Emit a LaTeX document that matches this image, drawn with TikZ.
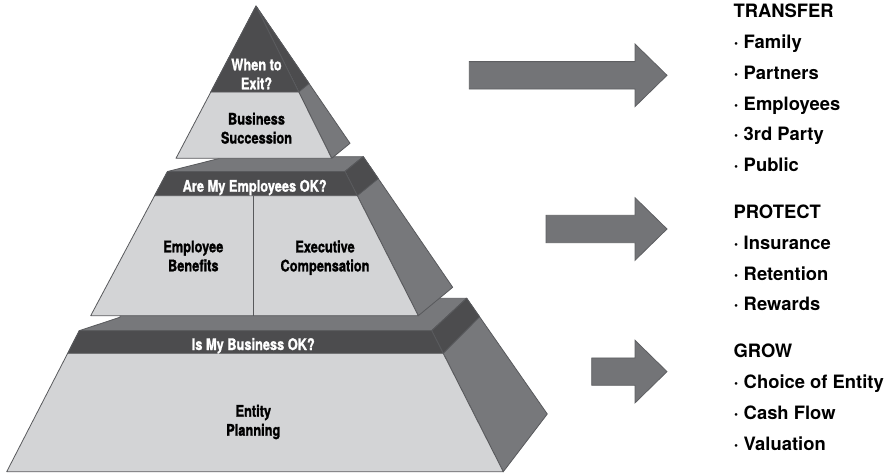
\documentclass[tikz,border=0pt]{standalone}
\usepackage{fontspec}
\setmainfont{TeX Gyre Heros}
\newfontfamily\condfont[FakeStretch=0.8,FakeBold=1.2]{TeX Gyre Heros}

\definecolor{facegray}{HTML}{D3D4D6}
\definecolor{bandgray}{HTML}{4C4C4E}
\definecolor{sidegray}{HTML}{77787B}
\definecolor{edgegray}{HTML}{58595C}
\definecolor{arrowfill}{HTML}{737477}
\definecolor{arrowedge}{HTML}{5E5F62}

\begin{document}
\begin{tikzpicture}[x=1pt,y=-1pt,
  face/.style={fill=facegray,draw=edgegray,line width=0.8pt,line join=round},
  band/.style={fill=bandgray,draw=edgegray,line width=0.8pt,line join=round},
  side/.style={fill=sidegray,draw=edgegray,line width=0.8pt,line join=round},
  divider/.style={draw=edgegray,line width=0.8pt},
  blockarrow/.style={fill=arrowfill,draw=arrowedge,line width=0.8pt,line join=miter},
  lbl/.style={inner sep=0pt,align=center,text=black,
    font=\condfont\bfseries\fontsize{16}{19}\selectfont},
  bandlbl/.style={inner sep=0pt,anchor=base,text=white,
    font=\condfont\bfseries\fontsize{16}{19}\selectfont},
  listtxt/.style={inner sep=0pt,anchor=base west,text=black,
    font=\bfseries\fontsize{18.4}{22}\selectfont}
]
\useasboundingbox (0,0) rectangle (888,474);

% ---------- bottom tier ----------
\draw[side] (79.3,330.7) -- (120,317.2) -- (120,298.3) -- (466.7,298.3) -- (431.7,330.7) -- cycle;
\draw[side] (431.7,330.7) -- (466.7,298.3) -- (547.3,414) -- (503.3,471.7) -- cycle;
\draw[band] (431.7,330.7) -- (466.7,298.3) -- (479.6,316.8) -- (443.2,353.3) -- cycle;
\draw[face] (79.3,330.7) -- (431.7,330.7) -- (503.3,471.7) -- (6.7,471.7) -- cycle;
\draw[band] (79.3,330.7) -- (431.7,330.7) -- (443.2,353.3) -- (67.8,353.3) -- cycle;

% ---------- middle tier ----------
\draw[side] (167.5,171.5) -- (219,158.5) -- (219,156.7) -- (363.3,156.7) -- (345,171.5) -- cycle;
\draw[side] (345,171.5) -- (363.3,156.7) -- (452.7,287.3) -- (418.3,315.7) -- cycle;
\draw[band] (345,171.5) -- (363.3,156.7) -- (378.3,178.6) -- (357.3,195.7) -- cycle;
\draw[face] (167.5,171.5) -- (345,171.5) -- (418.3,315.7) -- (90.7,315.7) -- cycle;
\draw[band] (167.5,171.5) -- (345,171.5) -- (357.3,195.7) -- (154.6,195.7) -- cycle;
\draw[divider] (253.5,195.7) -- (253.5,315.7);

% ---------- top pyramid ----------
\draw[side] (256,6) -- (350,143.3) -- (331.7,158.3) -- cycle;
\draw[band] (256,6) -- (309.1,83.5) -- (298.7,92) -- cycle;
\draw[face] (256,6) -- (331.7,158.3) -- (176,158.3) -- cycle;
\draw[band] (256,6) -- (298.7,92) -- (210.8,92) -- cycle;

% ---------- pyramid labels ----------
\node[lbl,text=white] (exit) at (256.5,74) {When to\\Exit?};
\node[lbl] (succession) at (256.5,128.2) {Business\\Succession};
\node[bandlbl] (employeesok) at (254.7,191.7) {Are My Employees OK?};
\node[lbl] (benefits) at (193.3,256) {Employee\\Benefits};
\node[lbl] (compensation) at (325,257.7) {Executive\\Compensation};
\node[bandlbl] (businessok) at (253.3,350) {Is My Business OK?};
\node[lbl] (entity) at (253.3,422) {Entity\\Planning};

% ---------- arrows ----------
\foreach \tx/\cy in {469.3/75.3, 546/229, 591.7/371.6}
  \draw[blockarrow] (\tx,{\cy-13.7}) -- (635,{\cy-13.7}) -- (635,{\cy-31.3})
    -- (667,\cy) -- (635,{\cy+31.3}) -- (635,{\cy+13.7}) -- (\tx,{\cy+13.7}) -- cycle;

% ---------- right-hand lists ----------
\node[listtxt] (transfer) at (733.3,17.3) {TRANSFER};
\node[listtxt] (family) at (733.3,48.3) {· Family};
\node[listtxt] (partners) at (733.3,79.1) {· Partners};
\node[listtxt] (employees) at (733.3,110) {· Employees};
\node[listtxt] (thirdparty) at (733.3,140.8) {· 3rd Party};
\node[listtxt] (public) at (733.3,171.7) {· Public};

\node[listtxt] (protect) at (733.3,218.3) {PROTECT};
\node[listtxt] (insurance) at (733.3,249) {· Insurance};
\node[listtxt] (retention) at (733.3,280) {· Retention};
\node[listtxt] (rewards) at (733.3,310.7) {· Rewards};

\node[listtxt] (grow) at (733.3,357.7) {GROW};
\node[listtxt] (choice) at (733.3,388.4) {· Choice of Entity};
\node[listtxt] (cashflow) at (733.3,419.3) {· Cash Flow};
\node[listtxt] (valuation) at (733.3,450) {· Valuation};
\end{tikzpicture}
\end{document}
